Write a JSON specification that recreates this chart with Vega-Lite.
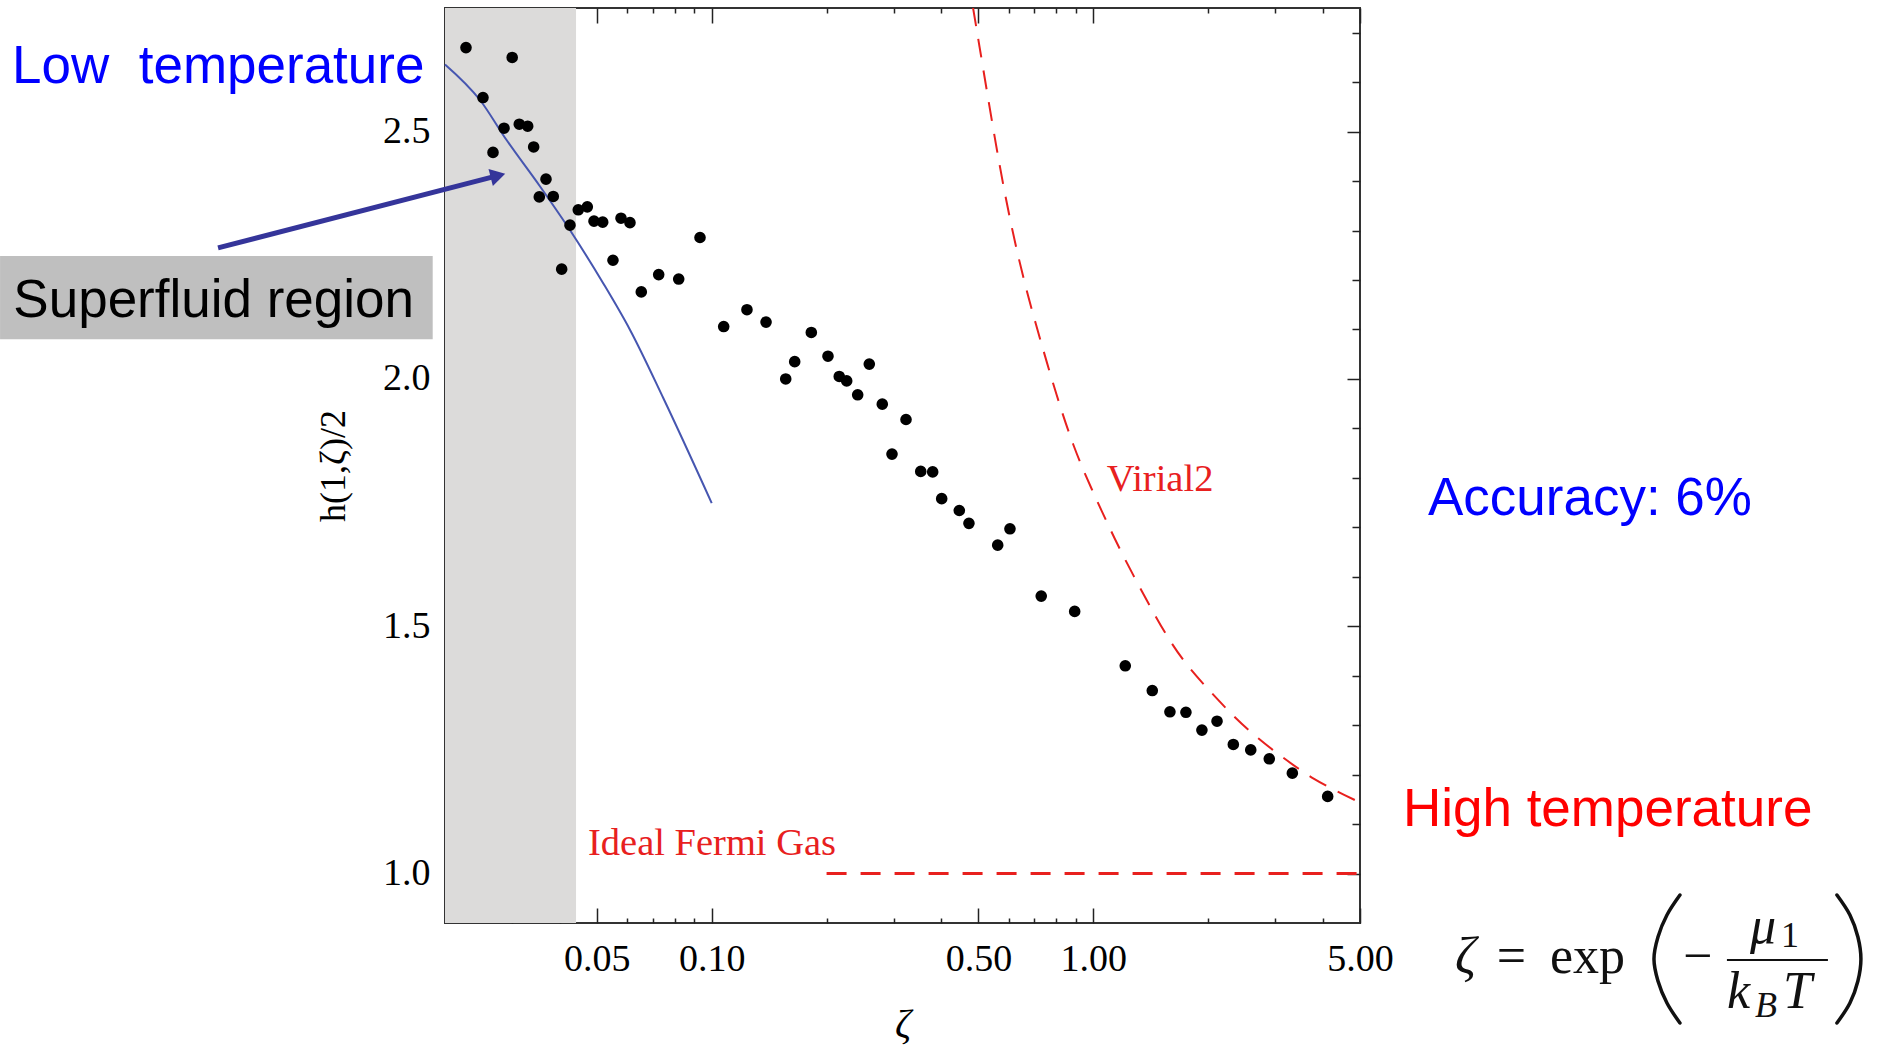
{
  "$schema": "https://vega.github.io/schema/vega-lite/v6.json",
  "width": 915,
  "height": 915,
  "autosize": {"type": "none"},
  "padding": {"left": 445, "top": 8, "right": 517, "bottom": 126},
  "background": "white",
  "config": {
    "view": {"stroke": "#333333", "strokeWidth": 2},
    "axis": {
      "domain": false, "grid": false, "tickColor": "#222222", "tickWidth": 1.5,
      "labelFont": "Liberation Serif", "labelFontSize": 38, "labelColor": "#000000",
      "titleFont": "Liberation Serif", "titleFontWeight": "normal", "titleColor": "#000000",
      "zindex": 1, "labelFlush": false, "labelOverlap": false
    }
  },
  "datasets": {
    "region": [{"zeta": 0.02, "zeta2": 0.0441, "h": 0.9, "h2": 2.75}],
    "blue": [
      {"zeta": 0.02, "h": 2.636}, {"zeta": 0.0247, "h": 2.564}, {"zeta": 0.029, "h": 2.483},
      {"zeta": 0.0355, "h": 2.389}, {"zeta": 0.0425, "h": 2.301}, {"zeta": 0.052, "h": 2.193},
      {"zeta": 0.0611, "h": 2.099}, {"zeta": 0.0747, "h": 1.961}, {"zeta": 0.1, "h": 1.749}
    ],
    "virial": [
      {"zeta": 0.4687, "h": 2.815}, {"zeta": 0.4996, "h": 2.687}, {"zeta": 0.558, "h": 2.463},
      {"zeta": 0.605, "h": 2.319}, {"zeta": 0.662, "h": 2.189}, {"zeta": 0.725, "h": 2.081},
      {"zeta": 0.802, "h": 1.965}, {"zeta": 0.886, "h": 1.864}, {"zeta": 0.98, "h": 1.784},
      {"zeta": 1.151, "h": 1.668}, {"zeta": 1.273, "h": 1.603}, {"zeta": 1.408, "h": 1.54},
      {"zeta": 1.557, "h": 1.48}, {"zeta": 1.757, "h": 1.42}, {"zeta": 2.043, "h": 1.365},
      {"zeta": 2.328, "h": 1.318}, {"zeta": 2.706, "h": 1.272}, {"zeta": 3.146, "h": 1.234},
      {"zeta": 3.771, "h": 1.19}, {"zeta": 4.658, "h": 1.155}, {"zeta": 5.05, "h": 1.142}
    ],
    "ideal": [{"zeta": 0.2, "h": 1.0}, {"zeta": 5.0, "h": 1.0}],
    "pts": [
      {"zeta": 0.0227, "h": 2.67}, {"zeta": 0.03, "h": 2.65}, {"zeta": 0.02515, "h": 2.569},
      {"zeta": 0.02672, "h": 2.458}, {"zeta": 0.02856, "h": 2.507}, {"zeta": 0.03131, "h": 2.515},
      {"zeta": 0.03294, "h": 2.511}, {"zeta": 0.03415, "h": 2.469}, {"zeta": 0.03679, "h": 2.404},
      {"zeta": 0.03533, "h": 2.368}, {"zeta": 0.03844, "h": 2.369}, {"zeta": 0.04252, "h": 2.311},
      {"zeta": 0.04044, "h": 2.222}, {"zeta": 0.0447, "h": 2.342}, {"zeta": 0.0472, "h": 2.348},
      {"zeta": 0.04915, "h": 2.319}, {"zeta": 0.0518, "h": 2.317}, {"zeta": 0.05785, "h": 2.325},
      {"zeta": 0.06106, "h": 2.316}, {"zeta": 0.09318, "h": 2.286}, {"zeta": 0.05511, "h": 2.24},
      {"zeta": 0.07262, "h": 2.211}, {"zeta": 0.08194, "h": 2.202}, {"zeta": 0.06538, "h": 2.176},
      {"zeta": 0.1075, "h": 2.106}, {"zeta": 0.1237, "h": 2.14}, {"zeta": 0.1388, "h": 2.115},
      {"zeta": 0.1824, "h": 2.094}, {"zeta": 0.1563, "h": 2.0}, {"zeta": 0.165, "h": 2.035},
      {"zeta": 0.2017, "h": 2.046}, {"zeta": 0.2159, "h": 2.005}, {"zeta": 0.2258, "h": 1.996},
      {"zeta": 0.2588, "h": 2.03}, {"zeta": 0.2413, "h": 1.968}, {"zeta": 0.2799, "h": 1.949},
      {"zeta": 0.323, "h": 1.918}, {"zeta": 0.2968, "h": 1.848}, {"zeta": 0.353, "h": 1.813},
      {"zeta": 0.3794, "h": 1.812}, {"zeta": 0.4006, "h": 1.758}, {"zeta": 0.4455, "h": 1.734},
      {"zeta": 0.4722, "h": 1.708}, {"zeta": 0.5617, "h": 1.664}, {"zeta": 0.6048, "h": 1.697},
      {"zeta": 0.7304, "h": 1.561}, {"zeta": 0.8938, "h": 1.53}, {"zeta": 1.2128, "h": 1.42},
      {"zeta": 1.4276, "h": 1.37}, {"zeta": 1.588, "h": 1.327}, {"zeta": 1.749, "h": 1.326},
      {"zeta": 1.926, "h": 1.29}, {"zeta": 2.11, "h": 1.308}, {"zeta": 2.328, "h": 1.261},
      {"zeta": 2.586, "h": 1.25}, {"zeta": 2.892, "h": 1.232}, {"zeta": 3.324, "h": 1.203},
      {"zeta": 4.114, "h": 1.156}
    ],
    "box": [{"zeta": 0.0013645, "zeta2": 0.01857, "h": 2.0801, "h2": 2.2486}],
    "arrow": [{"zeta": 0.005084, "h": 2.265}, {"zeta": 0.02656, "h": 2.4081}],
    "arrowhead": [{"zeta": 0.02753, "h": 2.4111}],
    "blueText": [
      {"label": "Low\u00a0\u00a0temperature", "zeta": 0.0014666, "h": 2.5978},
      {"label": "Accuracy: 6%", "zeta": 7.534, "h": 1.7259}
    ],
    "redText": [{"label": "High temperature", "zeta": 6.478, "h": 1.0969}],
    "blackText": [{"label": "Superfluid region", "zeta": 0.0014782, "h": 2.1259}],
    "chartText": [
      {"label": "Ideal Fermi Gas", "zeta": 0.0474, "h": 1.0375},
      {"label": "Virial2", "zeta": 1.084, "h": 1.7734}
    ],
    "fUp": [
      {"label": "=", "zeta": 11.42, "h": 0.7983},
      {"label": "exp", "zeta": 15.73, "h": 0.7983},
      {"label": "\u2212", "zeta": 35.09, "h": 0.7983}
    ],
    "fIt": [
      {"label": "\u03b6", "zeta": 8.872, "h": 0.7983},
      {"label": "\u03bc", "zeta": 52.58, "h": 0.8596},
      {"label": "k", "zeta": 45.77, "h": 0.7282},
      {"label": "T", "zeta": 64.16, "h": 0.7282}
    ],
    "fSubUp": [{"label": "1", "zeta": 63.4, "h": 0.8521}],
    "fSubIt": [{"label": "B", "zeta": 54.2, "h": 0.7106}],
    "fBar": [{"zeta": 45.77, "zeta2": 84.19, "h": 0.8252}],
    "fParen": [
      {"side": "left", "i": 0, "zeta": 34.47, "h": 0.9566},
      {"side": "left", "i": 1, "zeta": 31.87, "h": 0.9162},
      {"side": "left", "i": 2, "zeta": 30.19, "h": 0.8717},
      {"side": "left", "i": 3, "zeta": 29.47, "h": 0.8272},
      {"side": "left", "i": 4, "zeta": 30.19, "h": 0.7828},
      {"side": "left", "i": 5, "zeta": 31.87, "h": 0.7383},
      {"side": "left", "i": 6, "zeta": 34.47, "h": 0.6978},
      {"side": "right", "i": 0, "zeta": 88.89, "h": 0.9566},
      {"side": "right", "i": 1, "zeta": 96.15, "h": 0.9162},
      {"side": "right", "i": 2, "zeta": 100.89, "h": 0.8717},
      {"side": "right", "i": 3, "zeta": 102.74, "h": 0.8272},
      {"side": "right", "i": 4, "zeta": 100.89, "h": 0.7828},
      {"side": "right", "i": 5, "zeta": 96.15, "h": 0.7383},
      {"side": "right", "i": 6, "zeta": 88.89, "h": 0.6978}
    ]
  },
  "encoding": {
    "x": {"field": "zeta", "type": "quantitative", "scale": {"type": "log", "domain": [0.02, 5], "nice": false}, "axis": null},
    "y": {"field": "h", "type": "quantitative", "scale": {"domain": [0.9, 2.75], "nice": false, "zero": false}, "axis": null}
  },
  "resolve": {"axis": {"x": "independent", "y": "independent"}},
  "layer": [
    {
      "data": {"name": "region"},
      "mark": {"type": "rect", "color": "#dcdbda"},
      "encoding": {"x2": {"field": "zeta2"}, "y2": {"field": "h2"}}
    },
    {
      "data": {"name": "blue"},
      "mark": {"type": "line", "color": "#4656b0", "strokeWidth": 2, "interpolate": "monotone"},
      "encoding": {
        "x": {"field": "zeta", "type": "quantitative", "scale": {"type": "log", "domain": [0.02, 5], "nice": false},
              "axis": {"orient": "top", "values": [0.03, 0.04, 0.06, 0.07, 0.08, 0.09, 0.2, 0.3, 0.4, 0.6, 0.7, 0.8, 0.9, 2, 3, 4], "tickSize": -5, "labels": false, "title": null}},
        "y": {"field": "h", "type": "quantitative", "scale": {"domain": [0.9, 2.75], "nice": false, "zero": false},
              "axis": {"orient": "right", "values": [1.1, 1.2, 1.3, 1.4, 1.6, 1.7, 1.8, 1.9, 2.1, 2.2, 2.3, 2.4, 2.6, 2.7], "tickSize": -8, "labels": false, "title": null}}
      }
    },
    {
      "data": {"name": "virial"},
      "mark": {"type": "line", "color": "#e8201e", "strokeWidth": 2, "strokeDash": [19, 13], "clip": true, "interpolate": "basis"},
      "encoding": {
        "x": {"field": "zeta", "type": "quantitative", "scale": {"type": "log", "domain": [0.02, 5], "nice": false},
              "axis": {"orient": "bottom", "values": [0.03, 0.04, 0.06, 0.07, 0.08, 0.09, 0.2, 0.3, 0.4, 0.6, 0.7, 0.8, 0.9, 2, 3, 4], "tickSize": -5, "labels": false, "title": null}},
        "y": {"field": "h", "type": "quantitative", "scale": {"domain": [0.9, 2.75], "nice": false, "zero": false},
              "axis": {"orient": "left", "values": [1.1, 1.2, 1.3, 1.4, 1.6, 1.7, 1.8, 1.9, 2.1, 2.2, 2.3, 2.4, 2.6, 2.7], "tickSize": -8, "labels": false, "title": null}}
      }
    },
    {
      "data": {"name": "ideal"},
      "mark": {"type": "line", "color": "#e8201e", "strokeWidth": 3, "strokeDash": [20, 14]},
      "encoding": {
        "x": {"field": "zeta", "type": "quantitative", "scale": {"type": "log", "domain": [0.02, 5], "nice": false},
              "axis": {"orient": "top", "values": [0.05, 0.1, 0.5, 1, 5], "tickSize": -15, "labels": false, "title": null}},
        "y": {"field": "h", "type": "quantitative", "scale": {"domain": [0.9, 2.75], "nice": false, "zero": false},
              "axis": {"orient": "right", "values": [1, 1.5, 2, 2.5], "tickSize": -13, "labels": false, "title": null}}
      }
    },
    {
      "data": {"name": "pts"},
      "mark": {"type": "circle", "size": 135, "color": "#000000", "opacity": 1},
      "encoding": {
        "x": {"field": "zeta", "type": "quantitative", "scale": {"type": "log", "domain": [0.02, 5], "nice": false},
              "axis": {"orient": "bottom", "values": [0.05, 0.1, 0.5, 1, 5], "format": ".2f", "tickSize": -15, "labelPadding": 32, "title": "\u03b6", "titleFontStyle": "italic", "titleFontSize": 40, "titlePadding": 26}},
        "y": {"field": "h", "type": "quantitative", "scale": {"domain": [0.9, 2.75], "nice": false, "zero": false},
              "axis": {"orient": "left", "values": [1, 1.5, 2, 2.5], "format": ".1f", "tickSize": -13, "labelPadding": 28, "title": "h(1,\u03b6)/2", "titleFontSize": 36, "titlePadding": 30}}
      }
    },
    {
      "data": {"name": "box"},
      "mark": {"type": "rect", "color": "#bfbfbf"},
      "encoding": {"x2": {"field": "zeta2"}, "y2": {"field": "h2"}}
    },
    {
      "data": {"name": "arrow"},
      "mark": {"type": "line", "color": "#35359a", "strokeWidth": 5},
      "encoding": {}
    },
    {
      "data": {"name": "arrowhead"},
      "mark": {"type": "point", "shape": "triangle-right", "filled": true, "size": 300, "angle": 345.5, "color": "#35359a", "opacity": 1},
      "encoding": {}
    },
    {
      "data": {"name": "blueText"},
      "mark": {"type": "text", "align": "left", "baseline": "alphabetic", "font": "Liberation Sans", "fontSize": 53, "color": "#0000ff"},
      "encoding": {"text": {"field": "label"}}
    },
    {
      "data": {"name": "redText"},
      "mark": {"type": "text", "align": "left", "baseline": "alphabetic", "font": "Liberation Sans", "fontSize": 53, "color": "#ff0000"},
      "encoding": {"text": {"field": "label"}}
    },
    {
      "data": {"name": "blackText"},
      "mark": {"type": "text", "align": "left", "baseline": "alphabetic", "font": "Liberation Sans", "fontSize": 53, "color": "#000000"},
      "encoding": {"text": {"field": "label"}}
    },
    {
      "data": {"name": "chartText"},
      "mark": {"type": "text", "align": "left", "baseline": "alphabetic", "font": "Liberation Serif", "fontSize": 38.5, "color": "#e8201e"},
      "encoding": {"text": {"field": "label"}}
    },
    {
      "data": {"name": "fUp"},
      "mark": {"type": "text", "align": "left", "baseline": "alphabetic", "font": "Liberation Serif", "fontSize": 52, "color": "#111111"},
      "encoding": {"text": {"field": "label"}}
    },
    {
      "data": {"name": "fIt"},
      "mark": {"type": "text", "align": "left", "baseline": "alphabetic", "font": "Liberation Serif", "fontStyle": "italic", "fontSize": 52, "color": "#111111"},
      "encoding": {"text": {"field": "label"}}
    },
    {
      "data": {"name": "fSubUp"},
      "mark": {"type": "text", "align": "left", "baseline": "alphabetic", "font": "Liberation Serif", "fontSize": 36, "color": "#111111"},
      "encoding": {"text": {"field": "label"}}
    },
    {
      "data": {"name": "fSubIt"},
      "mark": {"type": "text", "align": "left", "baseline": "alphabetic", "font": "Liberation Serif", "fontStyle": "italic", "fontSize": 36, "color": "#111111"},
      "encoding": {"text": {"field": "label"}}
    },
    {
      "data": {"name": "fBar"},
      "mark": {"type": "rule", "color": "#111111", "strokeWidth": 2},
      "encoding": {"x2": {"field": "zeta2"}}
    },
    {
      "data": {"name": "fParen"},
      "mark": {"type": "line", "color": "#111111", "strokeWidth": 3.5, "interpolate": "cardinal", "strokeCap": "round"},
      "encoding": {"detail": {"field": "side", "type": "nominal"}, "order": {"field": "i", "type": "quantitative"}}
    }
  ]
}
